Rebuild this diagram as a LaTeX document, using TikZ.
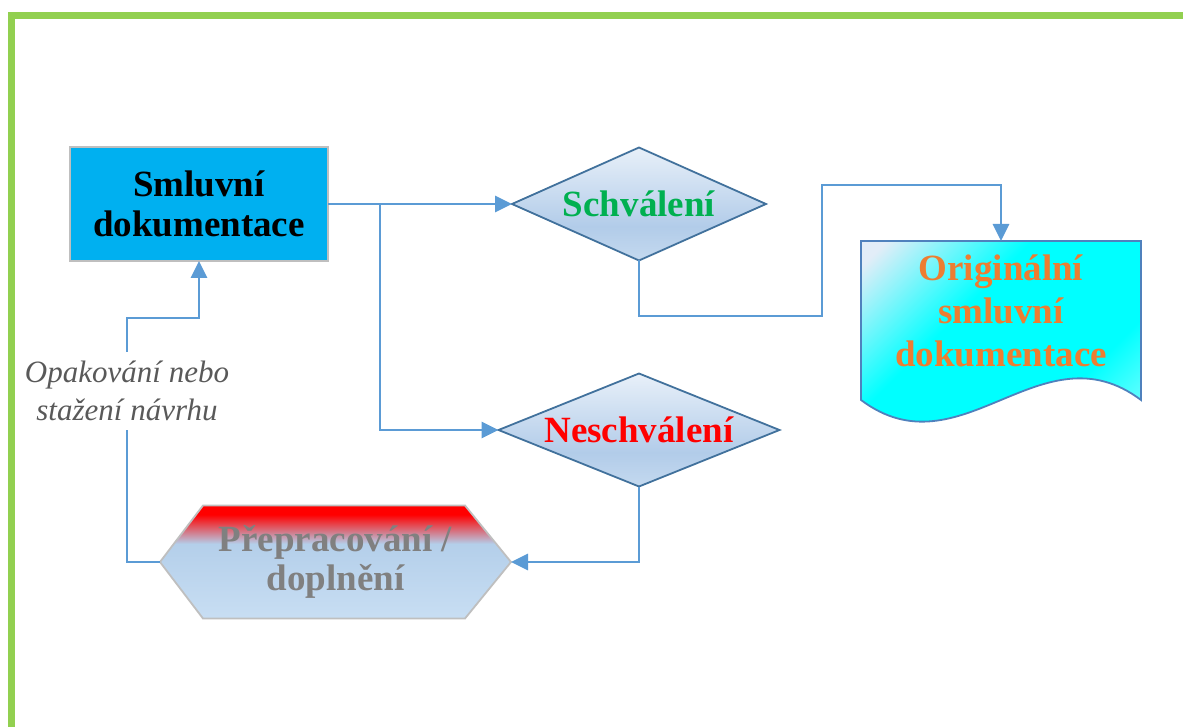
\documentclass[tikz,border=0pt]{standalone}
\usepackage{fontspec}
\setmainfont{Liberation Serif}
\usetikzlibrary{shapes.geometric,arrows.meta,calc,backgrounds}

\definecolor{ramecek}{RGB}{146,208,80}
\definecolor{modra}{RGB}{0,176,240}
\definecolor{spojnice}{RGB}{91,155,213}
\definecolor{okraj}{RGB}{65,113,156}
\definecolor{seda}{RGB}{191,191,191}
\definecolor{zelena}{RGB}{0,176,80}
\definecolor{oranzova}{RGB}{237,125,49}
\definecolor{textseda}{RGB}{128,128,128}
\definecolor{popis}{RGB}{89,89,89}
\definecolor{kosthorni}{RGB}{232,240,249}
\definecolor{kostdolni}{RGB}{178,204,233}
\definecolor{kostspod}{RGB}{196,217,239}
\definecolor{doksvetla}{RGB}{226,237,248}
\definecolor{tyrkys}{RGB}{0,255,255}
\definecolor{tyrkyssvetla}{RGB}{175,255,255}
\definecolor{hexmodra}{RGB}{180,207,234}
\definecolor{hexspod}{RGB}{200,222,243}
\definecolor{dokokraj}{RGB}{79,129,189}

\pgfdeclareverticalshading{kostka}{100bp}{color(0bp)=(kostspod); color(25bp)=(kostspod);
  color(40bp)=(kostdolni); color(75bp)=(kosthorni); color(100bp)=(kosthorni)}
\pgfdeclareverticalshading{sestiuhelnik}{100bp}{color(0bp)=(hexspod); color(25bp)=(hexspod);
  color(58bp)=(hexmodra); color(71bp)=(red); color(100bp)=(red)}
\pgfdeclarehorizontalshading{listina}{100bp}{color(0bp)=(doksvetla); color(18bp)=(doksvetla);
  color(38bp)=(tyrkys); color(64bp)=(tyrkys); color(84bp)=(tyrkyssvetla); color(100bp)=(tyrkyssvetla)}

\begin{document}
\begin{tikzpicture}[x=1pt,y=-1pt,
  spoj/.style={draw=spojnice,line width=2.8pt},
  sipka/.style={spoj,-{Triangle[length=17pt,width=16pt]}},
  tucne/.style={font=\fontsize{37}{40}\selectfont\bfseries,align=center},
  rozhod/.style={diamond,draw=okraj,line width=1.8pt,shading=kostka,
    minimum height=113pt,inner sep=0pt,outer sep=0pt,tucne}]
  \useasboundingbox (0,0) rectangle (1183,727);
  % zeleny ramecek
  \draw[ramecek,line width=7.5pt] (11.3,727) -- (11.3,15.6) -- (1183,15.6);

  \node[tucne,fill=modra,draw=seda,line width=1.8pt,minimum width=258pt,
    minimum height=114pt,outer sep=0pt] (smlouva) at (199,204) {Smluvní\\dokumentace};
  \node[rozhod,aspect=2.25,minimum width=254pt,text=zelena] (schval) at (639,204) {Schválení};
  \node[rozhod,aspect=2.49,minimum width=281pt,text=red] (neschval) at (639,430) {Neschválení};
  \node[tucne,font=\fontsize{37}{43}\selectfont\bfseries,text=oranzova,minimum width=280pt,
    minimum height=140pt,inner sep=0pt,outer sep=0pt] (original) at (1001,311)
    {Originální\\smluvní\\dokumentace};
  \node[tucne,font=\fontsize{37}{39}\selectfont\bfseries,text=textseda,minimum width=351pt,
    minimum height=113pt,inner sep=0pt,outer sep=0pt] (prepr) at (335.5,562)
    {Přepracování /\\doplnění};
  \node[font=\fontsize{31}{38}\selectfont\itshape,text=popis,align=center,
    minimum height=78pt,inner sep=0pt] (pozn) at (127,391) {Opakování nebo\\stažení návrhu};

  \begin{scope}[on background layer]
    \shadedraw[shading=listina,shading angle=-45,draw=dokokraj,line width=1.8pt]
      (original.north west) -- (original.north east) -- ($(original.south east)+(0,19)$)
      .. controls ($(original.south east)+(-100,-56)$) and ($(original.south west)+(100,94)$)
      .. ($(original.south west)+(0,19)$) -- cycle;
    \shadedraw[shading=sestiuhelnik,draw=seda,line width=1.8pt]
      (prepr.west) -- ($(prepr.north west)+(43,0)$) -- ($(prepr.north east)+(-46,0)$)
      -- (prepr.east) -- ($(prepr.south east)+(-46,0)$) -- ($(prepr.south west)+(43,0)$) -- cycle;
  \end{scope}

  \coordinate (rozcesti) at (380,204);
  \coordinate (dole) at (822,316);
  \coordinate (nahore) at (822,185);
  \coordinate (navrat) at (199,318);
  \draw[sipka] (smlouva.east) -- (schval.west);
  \draw[sipka] (rozcesti) |- (neschval.west);
  \draw[sipka] (schval.south) |- (dole) -- (nahore) -| (original.north);
  \draw[sipka] (neschval.south) |- (prepr.east);
  \draw[spoj] (prepr.west) -| (pozn.south);
  \draw[sipka] (pozn.north) |- (navrat) -- (smlouva.south);
\end{tikzpicture}
\end{document}
